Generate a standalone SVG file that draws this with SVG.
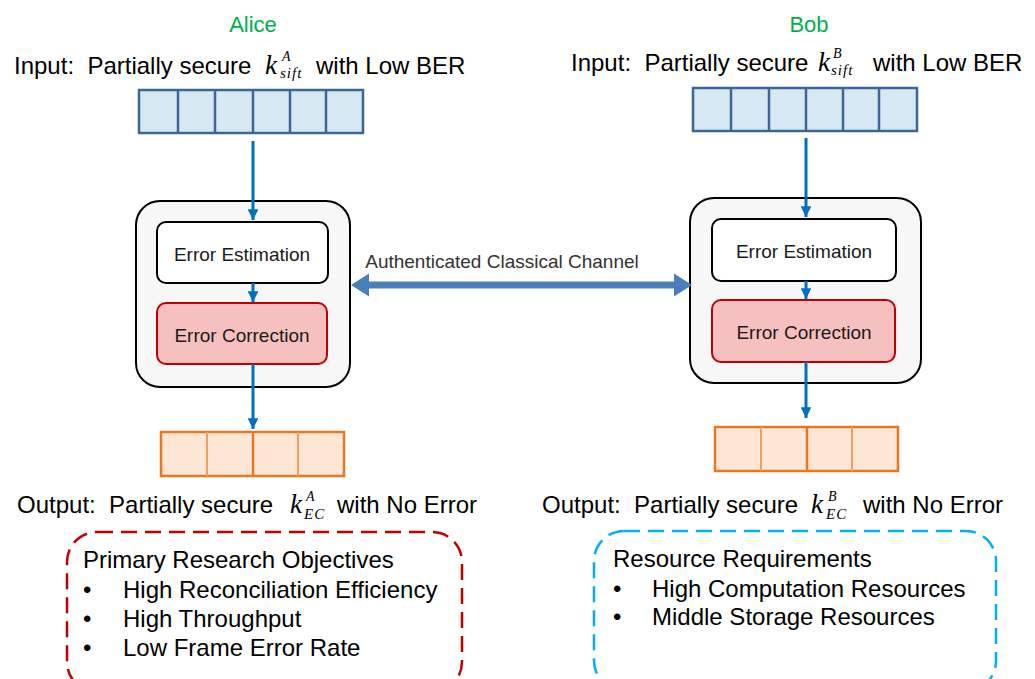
<svg xmlns="http://www.w3.org/2000/svg" width="1035" height="679" viewBox="0 0 1035 679">
  <defs>
    <style>
      .t { font-family: "Liberation Sans", Arial, sans-serif; fill: #000; white-space: pre; }
      .big { font-size: 24px; }
      .who { font-size: 22px; fill: #00b050; text-anchor: middle; }
      .step { font-size: 19px; fill: #1a1a1a; text-anchor: middle; }
      .chan { font-size: 19px; fill: #333; text-anchor: middle; }
      .m { font-family: "Liberation Serif", "Times New Roman", serif; font-style: italic; fill: #000; }
      .mk { font-size: 27px; }
      .sp { font-size: 14px; }
      .sb { font-size: 15px; letter-spacing: 1px; }
      .cellIn { fill: #d6e9f3; stroke: #3e6597; stroke-width: 2.5; }
      .cellOut { fill: #fde6d6; stroke: #e87722; stroke-width: 2.5; }
      .outer { fill: #f7f7f7; stroke: #000; stroke-width: 2; }
      .est { fill: #fff; stroke: #000; stroke-width: 2; }
      .corr { fill: #f7c0c0; stroke: #c00000; stroke-width: 2; }
      .flow { stroke: #0070c0; stroke-width: 3; fill: none; marker-end: url(#ah); }
      .dashRed { fill: none; stroke: #c00000; stroke-width: 2.5; stroke-dasharray: 16 8; }
      .dashBlue { fill: none; stroke: #00b0f0; stroke-width: 2.5; stroke-dasharray: 16 8; }
    </style>
    <marker id="ah" viewBox="0 0 10 10" refX="10" refY="5" markerWidth="3.6" markerHeight="3.6" markerUnits="strokeWidth" orient="auto">
      <path d="M0,0 L10,5 L0,10 z" fill="#0070c0"/>
    </marker>
  </defs>

  <!-- Alice side -->
  <g id="alice-label">
    <text class="t who" x="253" y="32">Alice</text>
  </g>
  <g id="alice-input">
    <text class="t big" x="14" y="74">Input:  Partially secure</text>
    <text class="m mk" x="265" y="74">k</text>
    <text class="m sp" x="282" y="61">A</text>
    <text class="m sb" x="280" y="78">sift</text>
    <text class="t big" x="316" y="74">with Low BER</text>
  </g>
  <g id="alice-key-in">
    <rect class="cellIn" x="139" y="90" width="224" height="43"/>
    <path class="cellIn" d="M178,90V133M215,90V133M253,90V133M290,90V133M326,90V133" fill="none"/>
  </g>
  <g id="alice-reconciliation">
    <rect class="outer" x="136" y="201" width="214" height="186" rx="24"/>
    <g id="alice-estimation">
      <rect class="est" x="157" y="222" width="171" height="61" rx="9"/>
      <text class="t step" x="242" y="261">Error Estimation</text>
    </g>
    <g id="alice-correction">
      <rect class="corr" x="157" y="303" width="170" height="61" rx="9"/>
      <text class="t step" x="242" y="342">Error Correction</text>
    </g>
  </g>
  <g id="alice-key-out">
    <rect class="cellOut" x="161" y="432" width="183" height="44"/>
    <path d="M207,432V476M298,432V476" stroke="#f0a060" stroke-width="2" fill="none"/>
    <path d="M253,432V476" stroke="#e87722" stroke-width="2.5" fill="none"/>
  </g>
  <g id="alice-output">
    <text class="t big" x="17" y="513">Output:  Partially secure</text>
    <text class="m mk" x="290" y="513">k</text>
    <text class="m sp" x="306" y="501">A</text>
    <text class="m sb" x="304" y="519">EC</text>
    <text class="t big" x="337" y="513">with No Error</text>
  </g>
  <g id="alice-objectives">
    <rect class="dashRed" x="67" y="532" width="395" height="160" rx="30"/>
    <text class="t big" x="83" y="568">Primary Research Objectives</text>
    <text class="t big" x="83" y="598">•</text>
    <text class="t big" x="123" y="598">High Reconciliation Efficiency</text>
    <text class="t big" x="83" y="627">•</text>
    <text class="t big" x="123" y="627">High Throughput</text>
    <text class="t big" x="83" y="656">•</text>
    <text class="t big" x="123" y="656">Low Frame Error Rate</text>
  </g>

  <!-- Bob side -->
  <g id="bob-label">
    <text class="t who" x="809" y="32">Bob</text>
  </g>
  <g id="bob-input">
    <text class="t big" x="571" y="71">Input:  Partially secure</text>
    <text class="m mk" x="818" y="71">k</text>
    <text class="m sp" x="833" y="58">B</text>
    <text class="m sb" x="831" y="75">sift</text>
    <text class="t big" x="873" y="71">with Low BER</text>
  </g>
  <g id="bob-key-in">
    <rect class="cellIn" x="693" y="88" width="224" height="43"/>
    <path class="cellIn" d="M731,88V131M769,88V131M806,88V131M843,88V131M879,88V131" fill="none"/>
  </g>
  <g id="bob-reconciliation">
    <rect class="outer" x="690" y="198" width="231" height="185" rx="24"/>
    <g id="bob-estimation">
      <rect class="est" x="712" y="219" width="184" height="62" rx="9"/>
      <text class="t step" x="804" y="258">Error Estimation</text>
    </g>
    <g id="bob-correction">
      <rect class="corr" x="712" y="300" width="183" height="62" rx="9"/>
      <text class="t step" x="804" y="339">Error Correction</text>
    </g>
  </g>
  <g id="bob-key-out">
    <rect class="cellOut" x="715" y="427" width="183" height="44"/>
    <path d="M761,427V471M852,427V471" stroke="#f0a060" stroke-width="2" fill="none"/>
    <path d="M807,427V471" stroke="#e87722" stroke-width="2.5" fill="none"/>
  </g>
  <g id="bob-output">
    <text class="t big" x="542" y="513">Output:  Partially secure</text>
    <text class="m mk" x="811" y="513">k</text>
    <text class="m sp" x="828" y="501">B</text>
    <text class="m sb" x="826" y="519">EC</text>
    <text class="t big" x="863" y="513">with No Error</text>
  </g>
  <g id="bob-resources">
    <rect class="dashBlue" x="594" y="531" width="402" height="160" rx="30"/>
    <text class="t big" x="613" y="567">Resource Requirements</text>
    <text class="t big" x="613" y="597">•</text>
    <text class="t big" x="652" y="597">High Computation Resources</text>
    <text class="t big" x="613" y="625">•</text>
    <text class="t big" x="652" y="625">Middle Storage Resources</text>
  </g>

  <!-- Connectors -->
  <g id="connectors">
    <path class="flow" d="M253,141V220"/>
    <path class="flow" d="M253,283V302"/>
    <path class="flow" d="M253,364V429"/>
    <path class="flow" d="M806,138V217"/>
    <path class="flow" d="M806,281V299"/>
    <path class="flow" d="M806,362V418"/>
    <polygon fill="#4a7ebb" points="351,285 369,273.5 369,281.5 674,281.5 674,273.5 692,285 674,296.5 674,288.5 369,288.5 369,296.5"/>
    <text class="t chan" x="502" y="268">Authenticated Classical Channel</text>
  </g>
</svg>
